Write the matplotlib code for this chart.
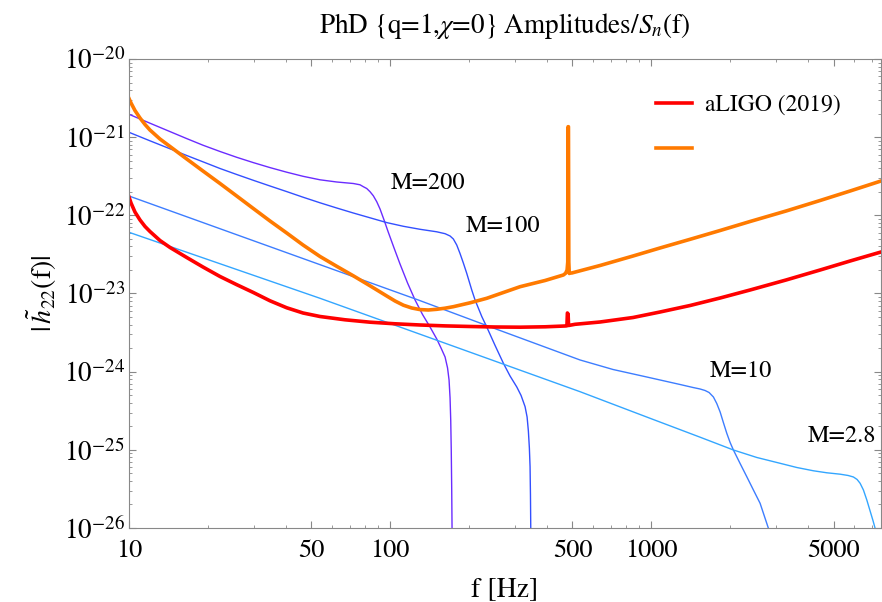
import numpy as np
import matplotlib.pyplot as plt
from matplotlib.ticker import FixedLocator, NullFormatter, LogLocator

plt.rcParams['font.family'] = 'STIXGeneral'
plt.rcParams['mathtext.fontset'] = 'stix'

## noise curves, values
f_ligo = [10, 10.18, 10.54, 11.02, 11.52, 12.03, 13.14, 14.36, 16.64, 19.20, 22.32, 25.86,
          29.94, 34.69, 40.20, 46.42, 53.92, 67.23, 83.82, 104.5, 130.3, 162.5, 202.6,
          252.6, 314.9, 392.6, 468.3, 476, 478, 481, 483, 511.5, 637.7, 853.2, 1082,
          1411, 1839, 2395, 3290, 4441, 5787, 7600]
h_ligo = [1.716e-22, 1.438e-22, 1.103e-22, 8.717e-23, 7.198e-23, 6.214e-23, 4.765e-23,
          3.879e-23, 2.888e-23, 2.183e-23, 1.650e-23, 1.297e-23, 1.030e-23, 8.066e-24,
          6.567e-24, 5.630e-24, 5.079e-24, 4.609e-24, 4.295e-24, 4.097e-24, 3.955e-24,
          3.851e-24, 3.784e-24, 3.728e-24, 3.707e-24, 3.750e-24, 3.840e-24, 3.86e-24,
          5.630e-24, 5.467e-24, 3.897e-24, 4.037e-24, 4.320e-24, 4.931e-24, 5.798e-24,
          7.023e-24, 8.761e-24, 1.109e-23, 1.489e-23, 1.998e-23, 2.605e-23, 3.396e-23]

f_orange = [10, 10.18, 10.54, 11.02, 11.52, 12.03, 13.14, 14.36, 16.64, 19.20, 22.32,
            25.86, 29.94, 34.69, 40.20, 46.42, 53.92, 62.49, 72.33, 83.82, 97.13, 104.5,
            112.5, 121.1, 130.3, 140.2, 151.0, 162.5, 174.8, 202.6, 234.7, 271.8, 314.9,
            392.6, 461.3, 470.4, 476.7, 479.5, 480.9, 482.5, 484, 486, 490, 496.8, 637.7,
            853.2, 1082, 1411, 1839, 2395, 3290, 4441, 5787, 7600]
h_orange = [3.124e-21, 2.736e-21, 2.194e-21, 1.758e-21, 1.452e-21, 1.235e-21, 9.475e-22,
            7.598e-22, 5.256e-22, 3.691e-22, 2.554e-22, 1.767e-22, 1.223e-22, 8.464e-23,
            5.941e-23, 4.174e-23, 2.975e-23, 2.228e-23, 1.684e-23, 1.255e-23, 9.292e-24,
            8.018e-24, 7.085e-24, 6.526e-24, 6.225e-24, 6.152e-24, 6.280e-24, 6.488e-24,
            6.780e-24, 7.604e-24, 8.683e-24, 1.030e-23, 1.222e-23, 1.467e-23, 1.725e-23,
            1.813e-23, 1.998e-23, 2.529e-23, 1.361e-21, 1.361e-21, 2.529e-23, 1.803e-23,
            1.830e-23, 1.830e-23, 2.282e-23, 3.019e-23, 3.822e-23, 4.936e-23, 6.398e-23,
            8.341e-23, 1.136e-22, 1.548e-22, 2.048e-22, 2.750e-22]

## waveform amplitudes, one per total mass
f_m200 = [10, 12.03, 14.36, 16.64, 19.20, 22.32, 25.86, 29.94, 34.69, 40.20, 46.42, 53.92,
          62.49, 72.33, 76.74, 79.01, 81.42, 83.82, 86.30, 88.93, 91.56, 94.85, 98.25,
          103.6, 109.2, 116.7, 124.7, 133.2, 142.3, 151.0, 156.8, 162.5, 166.1, 168.3,
          169.8, 170.8, 171.6, 172.3, 172.8, 173.3]
h_m200 = [1.962e-21, 1.509e-21, 1.178e-21, 9.587e-22, 7.892e-22, 6.557e-22, 5.527e-22,
          4.726e-22, 4.080e-22, 3.563e-22, 3.158e-22, 2.848e-22, 2.670e-22, 2.554e-22,
          2.459e-22, 2.324e-22, 2.204e-22, 2.006e-22, 1.778e-22, 1.494e-22, 1.205e-22,
          8.717e-23, 6.214e-23, 3.822e-23, 2.385e-23, 1.363e-23, 8.259e-24, 5.386e-24,
          3.728e-24, 2.618e-24, 2.009e-24, 1.541e-24, 1.114e-24, 7.826e-25, 4.604e-25,
          2.409e-25, 9.956e-26, 3.065e-26, 1.0e-26, 3.9e-27]

f_m100 = [10, 12.03, 14.36, 16.64, 19.20, 22.32, 25.86, 29.94, 34.69, 40.20, 46.42, 53.92,
          62.49, 72.33, 83.82, 97.13, 112.5, 130.3, 151.0, 162.5, 169.8, 174.8, 180.1,
          185.4, 190.9, 196.7, 205.6, 211.7, 224.6, 234.7, 252.6, 271.8, 288.2, 305.9,
          317.7, 329.1, 335.0, 338.8, 341.8, 343.9, 345.1, 346.0, 346.9]
h_m100 = [1.154e-21, 8.985e-22, 7.099e-22, 5.826e-22, 4.838e-22, 3.973e-22, 3.330e-22,
          2.806e-22, 2.373e-22, 2.012e-22, 1.706e-22, 1.447e-22, 1.241e-22, 1.071e-22,
          9.300e-23, 8.075e-23, 7.240e-23, 6.628e-23, 6.157e-23, 5.822e-23, 5.441e-23,
          4.981e-23, 4.174e-23, 3.249e-23, 2.457e-23, 1.813e-23, 1.109e-23, 8.259e-24,
          5.079e-24, 3.728e-24, 2.162e-24, 1.280e-24, 8.806e-25, 6.368e-25, 4.956e-25,
          3.565e-25, 2.631e-25, 1.742e-25, 1.056e-25, 6.085e-26, 2.644e-26, 1.0e-26, 3.9e-27]

f_m10 = [10, 128.3, 263.9, 534.5, 715.0, 962.8, 1291, 1448, 1541, 1610, 1668, 1733, 1785,
         1839, 1892, 1950, 2008, 2067, 2193, 2326, 2466, 2616, 2815, 2986]
h_m10 = [1.767e-22, 8.259e-24, 3.363e-24, 1.411e-24, 1.066e-24, 8.547e-25, 6.855e-25,
         6.272e-25, 6.002e-25, 5.742e-25, 5.413e-25, 4.743e-25, 3.916e-25, 3.048e-25,
         2.238e-25, 1.628e-25, 1.242e-25, 9.956e-26, 6.689e-26, 4.533e-26, 3.065e-26,
         2.071e-26, 9.92e-27, 5.55e-27]

f_m28 = [10, 53.92, 534.5, 991.2, 1541, 2067, 2541, 3120, 3615, 4187, 4713, 5298, 5686,
         5958, 6156, 6321, 6508, 6706, 6904, 7089, 7215, 7408]
h_m28 = [6.067e-23, 8.683e-24, 5.543e-25, 2.532e-25, 1.451e-25, 9.956e-26, 7.985e-26,
         6.728e-26, 5.945e-26, 5.395e-26, 5.086e-26, 4.881e-26, 4.698e-26, 4.495e-26,
         4.175e-26, 3.733e-26, 3.065e-26, 2.283e-26, 1.650e-26, 1.229e-26, 9.92e-27,
         7.03e-27]

mass_labels = ['M=200', 'M=100', 'M=10', 'M=2.8']
label_f = [140, 270, 2213, 5396]
label_h = [2.6e-22, 7.2e-23, 1.0e-24, 1.47e-25]

x_major = [10, 50, 100, 500, 1000, 5000]
x_minor = [20, 30, 40, 60, 70, 80, 90, 200, 300, 400, 600, 700, 800, 900,
           2000, 3000, 4000, 6000, 7000]
y_major = [1e-26, 1e-25, 1e-24, 1e-23, 1e-22, 1e-21, 1e-20]

fig = plt.figure(figsize=(8.82, 6.02), dpi=100)
ax = fig.add_axes([129/882, 1-528/602, 752/882, 469/602])

ax.plot(f_m200, h_m200, color='#6a2cff', lw=1.0)
ax.plot(f_m100, h_m100, color='#3350ff', lw=1.0)
ax.plot(f_m10, h_m10, color='#3d7dff', lw=1.0)
ax.plot(f_m28, h_m28, color='#33a6ff', lw=1.0)
red, = ax.plot(f_ligo, h_ligo, color='#ff0000', lw=2.6, solid_joinstyle='round')
orange, = ax.plot(f_orange, h_orange, color='#ff7a00', lw=2.6, solid_joinstyle='round')

for lab, lf, lh in zip(mass_labels, label_f, label_h):
    ax.text(lf, lh, lab, fontsize=17.5, ha='center', va='center')

ax.set_xscale('log')
ax.set_yscale('log')
ax.set_xlim(10, 7600)
ax.set_ylim(1e-26, 1e-20)

ax.xaxis.set_major_locator(FixedLocator(x_major))
ax.xaxis.set_minor_locator(FixedLocator(x_minor))
ax.set_xticklabels([str(v) for v in x_major])
ax.xaxis.set_minor_formatter(NullFormatter())
ax.yaxis.set_major_locator(FixedLocator(y_major))
ax.yaxis.set_minor_locator(LogLocator(base=10, subs=np.arange(2, 10), numticks=10))
ax.yaxis.set_minor_formatter(NullFormatter())
ax.set_yticklabels([r'$10^{%d}$' % int(np.log10(v)) for v in y_major])

ax.tick_params(which='both', direction='in', top=True, right=True, color='#888888')
ax.tick_params(which='major', length=5, width=0.8)
ax.tick_params(which='minor', length=2.5, width=0.6)
ax.tick_params(axis='y', pad=3, labelsize=19.5)
ax.tick_params(axis='x', pad=8, labelsize=19)
for s in ax.spines.values():
    s.set_color('#888888')
    s.set_linewidth(0.8)

ax.set_xlabel('f [Hz]', fontsize=20, labelpad=10)
ax.set_ylabel(r'$|\,\tilde{h}_{22}(\mathrm{f})|$', fontsize=20, labelpad=3)
ax.set_title(r'PhD {q=1,$\chi$=0} Amplitudes/$S_n$(f)', fontsize=19.5, pad=19)

ax.legend([red, orange], ['aLIGO (2019)', ' '], loc='upper left',
          bbox_to_anchor=(0.673, 0.97), frameon=False, fontsize=17,
          handlelength=1.53, labelspacing=1.0, handletextpad=0.55)

fig.savefig('out.png', dpi=100)
